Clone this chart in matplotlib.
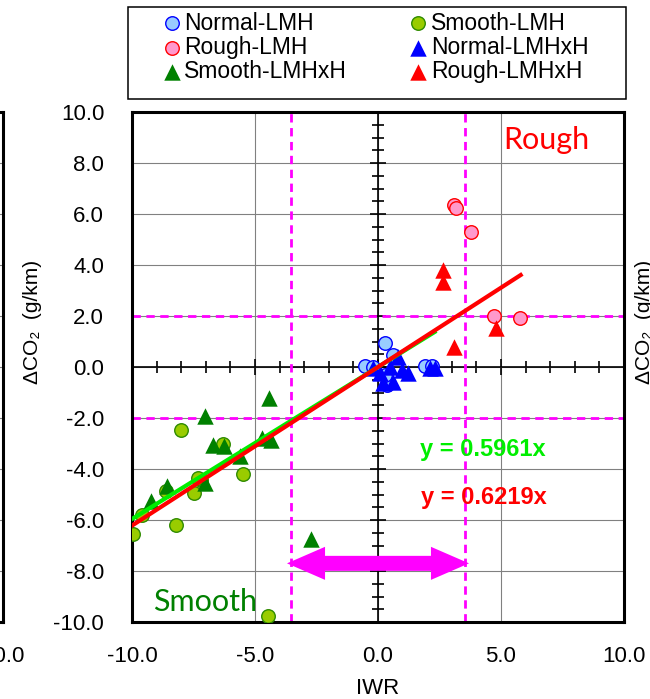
import numpy as np
import matplotlib.pyplot as plt
from matplotlib.patches import Rectangle

plt.rcParams['font.family'] = ['Liberation Sans', 'DejaVu Sans']
plt.rcParams['axes.unicode_minus'] = False

# IWR vs delta CO2 (g/km) for each road / test-cycle group
normal_lmh_x = [-0.53, -0.19, 0.28, 0.6, 0.35, 0.3, 1.9, 2.2]
normal_lmh_y = [0.04, 0.0, 0.93, 0.47, -0.7, -0.3, 0.05, 0.05]
smooth_lmh_x = [-9.97, -9.6, -8.2, -8.6, -7.5, -7.2, -7.3, -8.0, -6.3, -5.47, -4.48]
smooth_lmh_y = [-6.55, -5.8, -6.2, -4.86, -4.93, -4.43, -4.35, -2.47, -3.02, -4.2, -9.76]
rough_lmh_x = [3.09, 3.17, 3.8, 4.73, 5.77]
rough_lmh_y = [6.35, 6.23, 5.3, 2.0, 1.92]
normal_lmhxh_x = [-0.2, 0.49, 0.96, 1.23, 0.6, 0.2, 2.11, 2.3, 0.08, 0.81]
normal_lmhxh_y = [-0.04, 0.0, -0.12, -0.25, -0.58, -0.63, -0.04, -0.04, -0.25, 0.4]
smooth_lmhxh_x = [-9.24, -8.56, -7.03, -6.7, -6.26, -5.6, -7.03, -4.73, -4.36, -4.42, -2.72]
smooth_lmhxh_y = [-5.24, -4.67, -1.92, -3.06, -3.1, -3.5, -4.55, -2.8, -2.86, -1.22, -6.74]
rough_lmhxh_x = [2.66, 2.66, 3.09, 4.8]
rough_lmhxh_y = [3.8, 3.35, 0.8, 1.53]

# linear fits through the origin
slope_all = 0.5961
slope_rough = 0.6219
fit_all_x = np.array([-10.0, 2.3])
fit_rough_x = np.array([-10.0, 5.8])

# threshold bands
iwr_limits = [-3.55, 3.55]
dco2_limits = [-2.0, 2.0]
arrow_tips = [-3.7, 3.7]
arrow_y = -7.7

W, H = 650, 699
fig = plt.figure(figsize=(W / 100, H / 100), dpi=100)
pos = [132 / W, 1 - 622 / H, 492 / W, 510 / H]

# axes crossing at zero, with the grid, drawn underneath
axz = fig.add_axes(pos, zorder=0)
axz.set_xlim(-10, 10)
axz.set_ylim(-10, 10)
for s in ['top', 'right']:
    axz.spines[s].set_visible(False)
for s in ['left', 'bottom']:
    axz.spines[s].set_position(('data', 0))
    axz.spines[s].set_linewidth(1.2)
axz.set_xticks(np.arange(-10, 11, 5))
axz.set_xticks(np.arange(-10, 11, 1), minor=True)
axz.set_yticks(np.arange(-10, 11, 2))
axz.set_yticks(np.arange(-10, 10.1, 0.5), minor=True)
axz.tick_params(which='both', direction='inout', labelleft=False, labelbottom=False, width=1.2)
axz.tick_params(which='major', length=11)
axz.tick_params(which='minor', length=8)
axz.set_axisbelow(True)
axz.grid(True, which='major', color='#808080', lw=0.8)

# main plot area
ax = fig.add_axes(pos, zorder=1)
ax.patch.set_visible(False)
ax.set_xlim(-10, 10)
ax.set_ylim(-10, 10)
ax.set_xticks(np.arange(-10, 11, 5))
ax.set_yticks(np.arange(-10, 11, 2))
ax.xaxis.set_major_formatter('{x:.1f}')
ax.yaxis.set_major_formatter('{x:.1f}')
ax.tick_params(length=0, labelsize=16)
ax.tick_params(axis='x', pad=17)
ax.tick_params(axis='y', pad=20)
for s in ax.spines.values():
    s.set_linewidth(2.2)

for v in iwr_limits:
    ax.axvline(v, color='#ff00ff', lw=2, ls=(0, (3, 2)), zorder=1)
for v in dco2_limits:
    ax.axhline(v, color='#ff00ff', lw=2, ls=(0, (3, 2)), zorder=1)

circ = dict(marker='o', s=95, lw=1.0, zorder=3)
tri = dict(marker='^', s=140, lw=0, zorder=3)
h_smooth_lmh = ax.scatter(smooth_lmh_x, smooth_lmh_y, fc='#99cc00', ec='#2e8b00', label='Smooth-LMH', **circ)
h_smooth_lmhxh = ax.scatter(smooth_lmhxh_x, smooth_lmhxh_y, c='#008000', label='Smooth-LMHxH', **tri)
h_rough_lmh = ax.scatter(rough_lmh_x, rough_lmh_y, fc='#ff99cc', ec='#ff0000', label='Rough-LMH', **circ)
h_rough_lmhxh = ax.scatter(rough_lmhxh_x, rough_lmhxh_y, c='#ff0000', label='Rough-LMHxH', **tri)
h_normal_lmh = ax.scatter(normal_lmh_x, normal_lmh_y, fc='#99ccff', ec='#0000ff', label='Normal-LMH', **circ)
h_normal_lmhxh = ax.scatter(normal_lmhxh_x, normal_lmhxh_y, c='#0000ff', label='Normal-LMHxH', **tri)

ax.plot(fit_all_x, slope_all * fit_all_x, color='#00ee00', lw=3, zorder=4)
ax.plot(fit_rough_x, slope_rough * fit_rough_x, color='#ff0000', lw=3, zorder=5)

ax.text(1.7, -3.25, f'y = {slope_all:.4f}x', color='#00ee00', fontsize=17,
        fontweight='bold', va='center', ha='left', zorder=6)
ax.text(1.75, -5.1, f'y = {slope_rough:.4f}x', color='#ff0000', fontsize=17,
        fontweight='bold', va='center', ha='left', zorder=6)
ax.text(5.08, 8.55, 'Rough', color='#ff0000', fontsize=22, family='Lato', va='baseline', zorder=6)
ax.text(-9.15, -9.55, 'Smooth', color='#008000', fontsize=22, family='Lato', va='baseline', zorder=6)

for tip in arrow_tips:
    ax.annotate('', xy=(tip, arrow_y), xytext=(0, arrow_y),
                arrowprops=dict(arrowstyle='simple,head_length=1.37,head_width=1.19,tail_width=0.54',
                                mutation_scale=20, fc='#ff00ff', ec='none', shrinkA=0, shrinkB=0),
                zorder=5)

fig.text(33 / W, 1 - 322 / H, '\u0394CO\u2082  (g/km)', rotation=90, fontsize=15, ha='center', va='center')
fig.text(378 / W, 1 - 688 / H, 'IWR', fontsize=16, ha='center', va='center')

# legend
handles = [h_normal_lmh, h_rough_lmh, h_smooth_lmhxh, h_smooth_lmh, h_normal_lmhxh, h_rough_lmhxh]
fig.legend(handles=handles, labels=[h.get_label() for h in handles], ncol=2, loc='upper left',
           bbox_to_anchor=(165 / W, 1 - 11.5 / H), frameon=False, borderpad=0, borderaxespad=0,
           fontsize=16.5, handlelength=0.6, handletextpad=0.25, columnspacing=2.8,
           labelspacing=0.05, scatterpoints=1)
fig.add_artist(Rectangle((128 / W, 1 - 99 / H), (626 - 128) / W, 92 / H, transform=fig.transFigure,
                         fill=False, ec='black', lw=1.1))

# neighbouring panels at the edges
axl = fig.add_axes([(2.5 - 492) / W, 1 - 622 / H, 492 / W, 510 / H])
axl.set_xlim(-10, 10)
axl.set_ylim(-10, 10)
axl.set_xticks([10])
axl.set_yticks(np.arange(-10, 11, 2))
axl.xaxis.set_major_formatter('{x:.1f}')
axl.tick_params(length=0, labelsize=16, labelleft=False)
axl.tick_params(axis='x', pad=17)
axl.grid(True, color='#808080', lw=0.8)
for s in axl.spines.values():
    s.set_linewidth(2.2)
fig.text(645 / W, 1 - 322 / H, '\u0394CO\u2082  (g/km)', rotation=90, fontsize=15, ha='center', va='center')

fig.savefig('out.png', dpi=100)
